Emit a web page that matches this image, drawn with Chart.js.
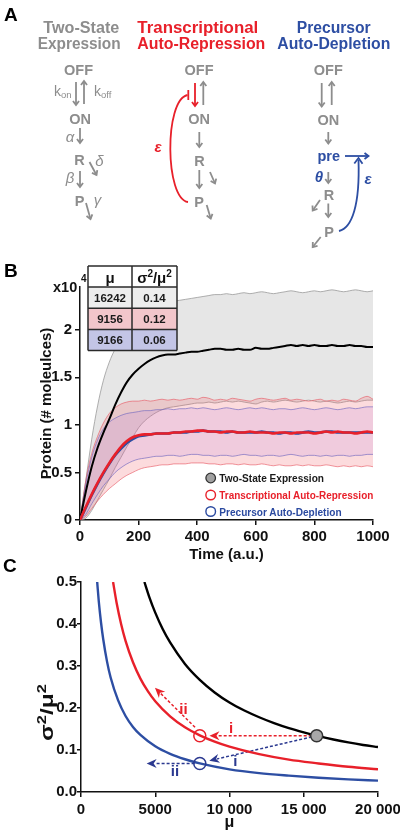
<!DOCTYPE html>
<html><head><meta charset="utf-8">
<script src="https://cdn.jsdelivr.net/npm/chart.js@4.4.1/dist/chart.umd.min.js"></script>
<style>
body{margin:0;background:#fff;}
#root{position:relative;width:400px;height:836px;overflow:hidden;background:#fff;}
#wb{position:absolute;left:0;top:270px;width:400px;height:300px;}
#wc{position:absolute;left:0;top:570px;width:400px;height:266px;}
#ov{position:absolute;left:0;top:0;pointer-events:none;}
</style></head>
<body><div id="root">
<div id="wb"><canvas id="cb"></canvas></div>
<div id="wc"><canvas id="cc"></canvas></div>
<svg id="ov" width="400" height="836" xmlns="http://www.w3.org/2000/svg"></svg>
</div>
<script>
// ---------------- Panel B data (protein in units of 10^4 molecules) ----------------
const times = [0,20,40,60,80,100,120,140,160,180,200,220,240,260,280,300,320,340,360,380,400,420,440,460,480,500,520,540,560,580,600,620,640,660,680,700,720,740,760,780,800,820,840,860,880,900,920,940,960,980,1000];
const meanTwoState = [0,0.30,0.56,0.76,0.92,1.06,1.21,1.34,1.45,1.53, 1.59,1.64,1.68,1.71,1.73,1.74,1.74,1.75,1.76,1.77, 1.77,1.78,1.79,1.80,1.80,1.79,1.79,1.80,1.79,1.79, 1.81,1.80,1.80,1.81,1.82,1.83,1.84,1.83,1.84,1.83, 1.84,1.83,1.83,1.84,1.83,1.83,1.84,1.83,1.83,1.82,1.82];
const upperTwoState = [0,0.42,0.85,1.20,1.47,1.66,1.80,1.92,2.01,2.08, 2.13,2.17,2.21,2.24,2.26,2.28,2.30,2.31,2.32,2.33, 2.34,2.35,2.36,2.37,2.37,2.38,2.37,2.38,2.39,2.38, 2.39,2.40,2.39,2.38,2.39,2.40,2.41,2.40,2.39,2.40, 2.41,2.40,2.41,2.42,2.41,2.40,2.41,2.42,2.41,2.40,2.41];
const lowerTwoState = [0,0.02,0.10,0.21,0.32,0.43,0.55,0.66,0.77,0.87, 0.97,1.04,1.09,1.13,1.16,1.18,1.19,1.20,1.21,1.22, 1.23,1.23,1.24,1.23,1.24,1.25,1.24,1.25,1.24,1.23, 1.22,1.24,1.25,1.24,1.25,1.26,1.25,1.24,1.25,1.26, 1.25,1.24,1.25,1.24,1.23,1.24,1.25,1.24,1.25,1.26,1.26];
const meanRepression = [0,0.14,0.27,0.39,0.50,0.60,0.69,0.77,0.83,0.87, 0.89,0.90,0.90,0.91,0.91,0.91,0.92,0.92,0.93,0.93, 0.94,0.94,0.93,0.93,0.92,0.93,0.93,0.92,0.92,0.93, 0.92,0.92,0.92,0.91,0.92,0.92,0.91,0.92,0.92,0.92, 0.91,0.92,0.93,0.92,0.93,0.92,0.92,0.91,0.92,0.93,0.92];
const upperRepression = [0,0.42,0.70,0.88,1.02,1.12,1.18,1.22,1.24,1.25, 1.25,1.26,1.25,1.26,1.27,1.26,1.27,1.26,1.27,1.28, 1.27,1.29,1.28,1.26,1.27,1.26,1.28,1.27,1.26,1.25, 1.27,1.28,1.27,1.26,1.27,1.28,1.26,1.27,1.26,1.25, 1.26,1.27,1.25,1.26,1.25,1.27,1.26,1.25,1.28,1.30,1.27];
const lowerRepression = [0,0.04,0.12,0.20,0.27,0.33,0.38,0.43,0.47,0.50, 0.53,0.55,0.56,0.57,0.58,0.58,0.59,0.59,0.59,0.60, 0.60,0.60,0.59,0.59,0.58,0.59,0.59,0.58,0.59,0.58, 0.58,0.59,0.58,0.57,0.58,0.57,0.57,0.58,0.57,0.58, 0.57,0.57,0.58,0.57,0.56,0.57,0.56,0.57,0.56,0.57,0.56];
const meanDepletion = [0,0.13,0.26,0.38,0.49,0.59,0.68,0.75,0.81,0.85, 0.88,0.89,0.90,0.91,0.91,0.91,0.92,0.92,0.92,0.93, 0.93,0.94,0.93,0.93,0.93,0.92,0.93,0.92,0.92,0.92, 0.92,0.93,0.92,0.92,0.91,0.92,0.92,0.91,0.92,0.93, 0.92,0.92,0.93,0.93,0.92,0.92,0.92,0.92,0.92,0.92,0.92];
const upperDepletion = [0,0.38,0.66,0.84,0.96,1.03,1.07,1.10,1.12,1.13, 1.14,1.15,1.15,1.16,1.16,1.17,1.16,1.17,1.17,1.18, 1.17,1.18,1.17,1.16,1.17,1.18,1.17,1.16,1.17,1.18, 1.17,1.18,1.17,1.16,1.17,1.17,1.16,1.17,1.18,1.17, 1.16,1.17,1.18,1.17,1.16,1.17,1.18,1.17,1.18,1.19,1.19];
const lowerDepletion = [0,0.06,0.17,0.27,0.36,0.43,0.50,0.55,0.59,0.62, 0.64,0.65,0.66,0.67,0.67,0.68,0.68,0.67,0.68,0.69, 0.69,0.68,0.68,0.67,0.68,0.68,0.67,0.68,0.69,0.68, 0.68,0.67,0.68,0.68,0.67,0.68,0.69,0.68,0.67,0.68, 0.68,0.67,0.68,0.67,0.68,0.68,0.67,0.68,0.68,0.69,0.69];
const bXTicks = [0,200,400,600,800,1000];
const bYTicks = [0,0.5,1,1.5,2];
const tableMu = [16242, 9156, 9166];
const tableCV = ['0.14', '0.12', '0.06'];
const legendLabels = ['Two-State Expression','Transcriptional Auto-Repression','Precursor Auto-Depletion'];

// ---------------- Panel C data ----------------
const muTwoState = [4270,4600,5000,5500,6000,7000,8000,9000,10000,11000,12000,13000,14000,15000,16000,17000,18000,19000,20000];
const cvTwoState = [0.500,0.464,0.427,0.388,0.356,0.305,0.267,0.237,0.213,0.194,0.178,0.164,0.152,0.142,0.133,0.125,0.118,0.112,0.107];
const muRepression = [2160,2400,2700,3000,3500,4000,4500,5000,6000,7000,8000,9000,10000,12000,14000,16000,18000,20000];
const cvRepression = [0.500,0.450,0.400,0.360,0.309,0.270,0.240,0.216,0.180,0.154,0.135,0.120,0.108,0.090,0.077,0.068,0.060,0.054];
const muDepletion = [1090,1200,1350,1500,1750,2000,2500,3000,3500,4000,5000,6000,7000,8000,10000,12000,14000,16000,18000,20000];
const cvDepletion = [0.500,0.453,0.403,0.363,0.311,0.272,0.218,0.181,0.155,0.136,0.109,0.091,0.078,0.068,0.054,0.045,0.039,0.034,0.030,0.027];
const pointMu = [15870, 8000, 8000];
const pointCV = [0.134, 0.134, 0.068];
const arrowFromMu = [15870, 7680, 15870, 7650];
const arrowFromCV = [0.134, 0.154, 0.134, 0.068];
const arrowToMu = [8650, 4980, 8640, 4420];
const arrowToCV = [0.134, 0.248, 0.0745, 0.068];
const arrowLabels = ['i','ii','i','ii'];
const labelMu = [10100, 6900, 10400, 6330];
const labelCV = [0.150, 0.195, 0.071, 0.047];
const cXTicks = [0,5000,10000,15000,20000];
const cYTicks = [0,0.1,0.2,0.3,0.4,0.5];

// ---------------- styles ----------------
const FONT = "'Liberation Sans', Arial, Helvetica, sans-serif";
const RED = '#e8202a', BLUE = '#2d4ea3', DBLUE = '#2b3990', GRAY = '#8d8d8d';
const arrowColors = [RED, RED, DBLUE, DBLUE];
Chart.defaults.font.family = FONT;

function xy(xs, ys){ return xs.map((x,i)=>({x:x, y:ys[i]})); }
function axisCommon(tickLen, pad, cb){
  return {
    grid:{drawOnChartArea:false, color:'#111', lineWidth:1.5, tickLength:tickLen},
    border:{color:'#111', width:1.5},
    ticks:{color:'#111', font:{family:FONT, weight:'bold', size:15}, padding:pad, maxRotation:0, autoSkip:false, callback:cb}
  };
}
const plainLabel = function(v){ return String(v); };
const spacedLabel = function(v){ const s = String(v); return v >= 10000 ? s.slice(0,-3) + ' ' + s.slice(-3) : s; };
const oneDecimal = function(v){ return Number(v).toFixed(1); };

// ---------------- Panel B chart ----------------
new Chart(document.getElementById('cb'), {
  type:'line',
  data:{datasets:[
    {data:xy(times,lowerTwoState), borderColor:'#9a9a9a', borderWidth:0.8, fill:false, order:5},
    {data:xy(times,upperTwoState), borderColor:'#9a9a9a', borderWidth:0.8, fill:'-1', backgroundColor:'rgba(150,150,150,0.24)', order:5},
    {data:xy(times,lowerRepression), borderColor:'rgba(232,90,100,0.8)', borderWidth:0.8, fill:false, order:4},
    {data:xy(times,upperRepression), borderColor:'rgba(232,90,100,0.8)', borderWidth:0.8, fill:'-1', backgroundColor:'rgba(240,90,100,0.22)', order:4},
    {data:xy(times,lowerDepletion), borderColor:'rgba(110,100,190,0.8)', borderWidth:0.8, fill:false, order:3},
    {data:xy(times,upperDepletion), borderColor:'rgba(110,100,190,0.8)', borderWidth:0.8, fill:'-1', backgroundColor:'rgba(170,110,220,0.15)', order:3},
    {data:xy(times,meanTwoState), borderColor:'#000', borderWidth:2, fill:false, order:2},
    {data:xy(times,meanDepletion), borderColor:BLUE, borderWidth:2.6, fill:false, order:1},
    {data:xy(times,meanRepression), borderColor:RED, borderWidth:2.6, fill:false, order:0}
  ]},
  options:{
    responsive:true, maintainAspectRatio:false, animation:false, devicePixelRatio:1,
    elements:{point:{radius:0}, line:{cubicInterpolationMode:'monotone'}},
    layout:{padding:{top:17, right:27, left:0, bottom:0}},
    plugins:{legend:{display:false}, tooltip:{enabled:false}},
    scales:{
      x:Object.assign(axisCommon(5, 3, plainLabel), {type:'linear', min:0, max:1000,
        afterBuildTicks(s){ s.ticks = bXTicks.map(v=>({value:v})); },
        afterFit(s){ s.height = 50; s.paddingLeft = 0; s.paddingRight = 0; },
        title:{display:true, text:'Time (a.u.)', color:'#111', font:{family:FONT, weight:'bold', size:15}, padding:{top:0, bottom:6}}}),
      y:Object.assign(axisCommon(5, 3, plainLabel), {type:'linear', min:0, max:2.45,
        afterBuildTicks(s){ s.ticks = bYTicks.map(v=>({value:v})); },
        afterFit(s){ s.width = 80; s.paddingTop = 0; s.paddingBottom = 0; },
        title:{display:true, text:'Protein (# moleulces)', color:'#111', font:{family:FONT, weight:'bold', size:15}, padding:{top:38, bottom:0}}})
    }
  }
});

// ---------------- Panel C chart ----------------
const arrowPlugin = {
  id:'arrowsC',
  beforeDatasetsDraw(chart){
    const ctx = chart.ctx, x = chart.scales.x, y = chart.scales.y;
    ctx.save();
    for (let i=0;i<arrowFromMu.length;i++){
      const x1 = x.getPixelForValue(arrowFromMu[i]), y1 = y.getPixelForValue(arrowFromCV[i]);
      const x2 = x.getPixelForValue(arrowToMu[i]), y2 = y.getPixelForValue(arrowToCV[i]);
      const a = Math.atan2(y2-y1, x2-x1), hl = 10, hw = 4.5;
      const bxp = x2 - hl*Math.cos(a), byp = y2 - hl*Math.sin(a);
      ctx.strokeStyle = arrowColors[i]; ctx.fillStyle = arrowColors[i];
      ctx.lineWidth = 1.5; ctx.setLineDash([3,2]);
      ctx.beginPath(); ctx.moveTo(x1,y1); ctx.lineTo(bxp+2*Math.cos(a), byp+2*Math.sin(a)); ctx.stroke();
      ctx.setLineDash([]);
      const nx = -Math.sin(a), ny = Math.cos(a);
      ctx.beginPath();
      ctx.moveTo(x2,y2);
      ctx.lineTo(bxp + hw*nx, byp + hw*ny);
      ctx.lineTo(bxp + 3*Math.cos(a), byp + 3*Math.sin(a));
      ctx.lineTo(bxp - hw*nx, byp - hw*ny);
      ctx.closePath(); ctx.fill();
      ctx.font = 'bold 15px ' + FONT; ctx.textAlign = 'center'; ctx.textBaseline = 'middle';
      ctx.fillText(arrowLabels[i], x.getPixelForValue(labelMu[i]), y.getPixelForValue(labelCV[i]));
    }
    ctx.restore();
  }
};
new Chart(document.getElementById('cc'), {
  type:'line',
  data:{datasets:[
    {data:xy(muTwoState,cvTwoState), borderColor:'#000', borderWidth:2.4, fill:false, pointRadius:0, cubicInterpolationMode:'monotone', order:3},
    {data:xy(muRepression,cvRepression), borderColor:RED, borderWidth:2.4, fill:false, pointRadius:0, cubicInterpolationMode:'monotone', order:2},
    {data:xy(muDepletion,cvDepletion), borderColor:BLUE, borderWidth:2.4, fill:false, pointRadius:0, cubicInterpolationMode:'monotone', order:1},
    {data:xy(pointMu,pointCV), showLine:false, fill:false, pointRadius:6, pointBorderWidth:1.5,
      pointBackgroundColor:['#a8a8a8','rgba(255,255,255,0)','rgba(255,255,255,0)'],
      pointBorderColor:['#333', RED, DBLUE], order:0}
  ]},
  options:{
    responsive:true, maintainAspectRatio:false, animation:false, devicePixelRatio:1,
    layout:{padding:{top:12, right:22, left:0, bottom:0}},
    plugins:{legend:{display:false}, tooltip:{enabled:false}},
    scales:{
      x:Object.assign(axisCommon(5, 4, spacedLabel), {type:'linear', min:0, max:20000,
        afterBuildTicks(s){ s.ticks = cXTicks.map(v=>({value:v})); },
        afterFit(s){ s.height = 44; s.paddingLeft = 0; s.paddingRight = 0; },
        title:{display:true, text:'μ', color:'#111', font:{family:FONT, weight:'bold', size:16}, padding:{top:0, bottom:4}}}),
      y:Object.assign(axisCommon(4, 0, oneDecimal), {type:'linear', min:0, max:0.5,
        afterBuildTicks(s){ s.ticks = cYTicks.map(v=>({value:v})); },
        afterFit(s){ s.width = 81; s.paddingTop = 0; s.paddingBottom = 0; },
        title:{display:false}})
    }
  },
  plugins:[arrowPlugin]
});

// ---------------- Overlay: panel A diagram, labels, table, legend ----------------
const svg = document.getElementById('ov');
const NS = 'http://www.w3.org/2000/svg';
const SF = "Liberation Sans, Arial, Helvetica, sans-serif";
function mk(tag, attrs, parent){ const e = document.createElementNS(NS, tag); for (const k in attrs) e.setAttribute(k, attrs[k]); (parent||svg).appendChild(e); return e; }
function T(x, y, s, o){
  o = o || {};
  const e = mk('text', {x:x, y:y, 'font-family':SF, 'font-size':o.size||14.5, 'font-weight':o.weight||'bold', fill:o.color||GRAY, 'text-anchor':o.anchor||'middle'});
  if (o.italic) e.setAttribute('font-style','italic');
  if (o.len){ e.setAttribute('textLength', o.len); e.setAttribute('lengthAdjust','spacingAndGlyphs'); }
  e.textContent = s; return e;
}
function arrow(x1,y1,x2,y2,color,w,h){
  w = w||1.8; h = h||5;
  mk('line',{x1:x1,y1:y1,x2:x2,y2:y2,stroke:color,'stroke-width':w});
  const a = Math.atan2(y2-y1,x2-x1), s = 0.65;
  const p1 = [x2 - h*Math.cos(a-s), y2 - h*Math.sin(a-s)], p2 = [x2 - h*Math.cos(a+s), y2 - h*Math.sin(a+s)];
  mk('polyline',{points:p1.join(',')+' '+x2+','+y2+' '+p2.join(','), fill:'none', stroke:color, 'stroke-width':w, 'stroke-linejoin':'miter'});
}

// panel letters
T(4, 21, 'A', {size:19, color:'#000', anchor:'start'});
T(4, 277, 'B', {size:19, color:'#000', anchor:'start'});
T(3, 572, 'C', {size:19, color:'#000', anchor:'start'});

// titles
T(43.3, 33, 'Two-State', {size:16, anchor:'start', len:76});
T(37.7, 49, 'Expression', {size:16, anchor:'start', len:83});
T(137.3, 33, 'Transcriptional', {size:16, anchor:'start', len:121, color:RED});
T(137.3, 49, 'Auto-Repression', {size:16, anchor:'start', len:128, color:RED});
T(296.7, 33, 'Precursor', {size:16, anchor:'start', len:74, color:BLUE});
T(277.3, 49, 'Auto-Depletion', {size:16, anchor:'start', len:113, color:BLUE});

// column 1: two-state
T(78.5, 75, 'OFF'); T(80, 124, 'ON'); T(79.5, 165, 'R'); T(79.5, 206, 'P');
arrow(76, 82, 76, 105, GRAY); arrow(84, 104, 84, 81, GRAY);
const kon = T(54, 96, 'k', {size:14, weight:'normal', anchor:'start'});
const ks1 = mk('tspan', {'font-size':9.5, dy:2}, kon); ks1.textContent = 'on';
const koff = T(94, 96, 'k', {size:14, weight:'normal', anchor:'start'});
const ks2 = mk('tspan', {'font-size':9.5, dy:2}, koff); ks2.textContent = 'off';
T(70, 142, 'α', {size:15, weight:'normal', italic:true});
arrow(80, 128, 80, 143, GRAY);
arrow(89.5, 162, 96.5, 175, GRAY);
T(99.5, 166, 'δ', {size:15, weight:'normal', italic:true});
T(70, 183, 'β', {size:15, weight:'normal', italic:true});
arrow(80, 171, 80, 187, GRAY);
arrow(86, 203, 90.5, 219, GRAY);
T(97.5, 205, 'γ', {size:15, weight:'normal', italic:true});

// column 2: transcriptional auto-repression
T(199, 75, 'OFF'); T(199, 124, 'ON'); T(199.5, 166, 'R'); T(199, 207, 'P');
arrow(195, 83, 195, 106, RED);
arrow(203.3, 105, 203.3, 82, GRAY);
mk('path', {d:'M 188 202 C 165 199, 164 100, 187.5 95', fill:'none', stroke:RED, 'stroke-width':1.8});
mk('line', {x1:188.3, y1:90, x2:188.3, y2:100, stroke:RED, 'stroke-width':1.8});
T(158, 152, 'ε', {size:15, color:RED, italic:true});
arrow(199.3, 132, 199.3, 147, GRAY);
arrow(199.3, 170, 199.3, 188, GRAY);
arrow(210, 172, 215, 183.5, GRAY);
arrow(206.7, 205, 210.7, 218.5, GRAY);

// column 3: precursor auto-depletion
T(328.3, 75, 'OFF'); T(328.3, 125, 'ON');
T(328.7, 160.5, 'pre', {color:BLUE});
T(329, 200, 'R'); T(329, 236.7, 'P');
arrow(321.7, 83, 321.7, 106.5, GRAY);
arrow(331.7, 105, 331.7, 82, GRAY);
arrow(328.3, 132, 328.3, 143.5, GRAY);
arrow(345, 156, 368.5, 156, BLUE);
T(319, 182, 'θ', {size:15, color:BLUE, italic:true});
arrow(328.3, 172, 328.3, 183, GRAY);
arrow(320, 200, 312.7, 210.5, GRAY);
arrow(328.3, 203.5, 328.3, 217, GRAY);
arrow(320.7, 237, 312.7, 247, GRAY);
mk('path', {d:'M 339 231 C 352 228, 360 205, 358.5 160', fill:'none', stroke:BLUE, 'stroke-width':1.8});
mk('polyline', {points:'354.3,163.5 358.5,158 362.5,163.8', fill:'none', stroke:BLUE, 'stroke-width':1.8});
T(368, 184, 'ε', {size:15, color:BLUE, italic:true});

// panel B: x10^4
T(53, 291.7, 'x10', {size:14.5, color:'#111', anchor:'start'});
T(81, 282, '4', {size:10, color:'#111', anchor:'start'});

// panel B: table
const tX = [88, 132, 177];
const tY = [266, 287, 308.3, 329.5, 350.5];
const rowFill = ['#ffffff', '#ededed', '#f2c6cb', '#c3c5e6'];
for (let r=0;r<4;r++) mk('rect', {x:tX[0], y:tY[r], width:tX[2]-tX[0], height:tY[r+1]-tY[r], fill:rowFill[r]});
for (let r=0;r<5;r++) mk('line', {x1:tX[0], y1:tY[r], x2:tX[2], y2:tY[r], stroke:'#2a2a2a', 'stroke-width':1.5});
for (let c=0;c<3;c++) mk('line', {x1:tX[c], y1:tY[0], x2:tX[c], y2:tY[4], stroke:'#2a2a2a', 'stroke-width':1.5});
T(110, 282.5, 'μ', {size:15, color:'#111'});
const hd = T(154.5, 282.5, 'σ', {size:15, color:'#111'});
let tsp = mk('tspan', {'font-size':10, dy:-6}, hd); tsp.textContent = '2';
tsp = mk('tspan', {dy:6}, hd); tsp.textContent = '/μ';
tsp = mk('tspan', {'font-size':10, dy:-6}, hd); tsp.textContent = '2';
for (let r=0;r<3;r++){
  T(110, tY[r+1]+14.5, String(tableMu[r]), {size:11.5, color:'#1a1a1a'});
  T(154.5, tY[r+1]+14.5, tableCV[r], {size:11.5, color:'#1a1a1a'});
}

// panel B: legend
const legY = [478, 495, 511.5];
const legColor = ['#1a1a1a', RED, '#2b4aa0'];
const legLen = [104.7, 154, 122.3];
mk('circle', {cx:210.7, cy:legY[0], r:4.8, fill:'#a0a0a0', stroke:'#333', 'stroke-width':1.3});
mk('circle', {cx:210.7, cy:legY[1], r:4.8, fill:'none', stroke:RED, 'stroke-width':1.4});
mk('circle', {cx:210.7, cy:legY[2], r:4.8, fill:'none', stroke:'#2b4aa0', 'stroke-width':1.4});
for (let i=0;i<3;i++) T(219.3, legY[i]+4.3, legendLabels[i], {size:11.5, color:legColor[i], anchor:'start', len:legLen[i]});

// panel C: y title (bottom-to-top, left of the tick labels)
const yt = mk('text', {transform:'translate(52.5,741) rotate(-90)', 'font-family':SF, 'font-size':18, 'font-weight':'bold', fill:'#111', 'text-anchor':'start', textLength:57, lengthAdjust:'spacingAndGlyphs'});
yt.textContent = 'σ';
tsp = mk('tspan', {'font-size':12, dy:-7}, yt); tsp.textContent = '2';
tsp = mk('tspan', {dy:7}, yt); tsp.textContent = '/μ';
tsp = mk('tspan', {'font-size':12, dy:-7}, yt); tsp.textContent = '2';
</script>
</body></html>
